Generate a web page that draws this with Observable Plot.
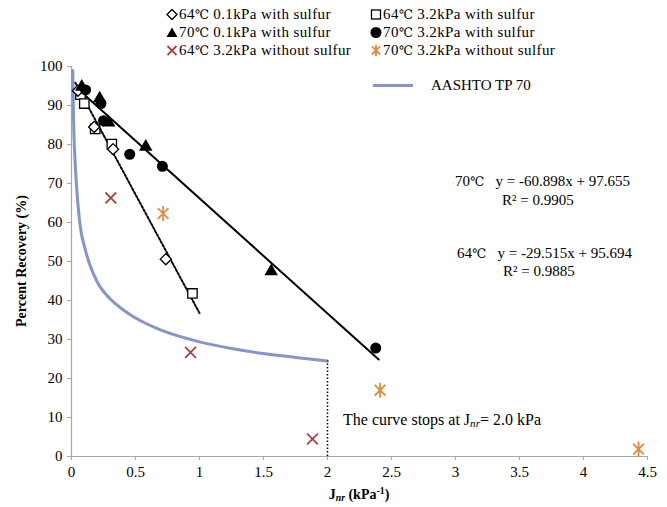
<!DOCTYPE html>
<html>
<head>
<meta charset="utf-8">
<script src="https://cdn.jsdelivr.net/npm/d3@7"></script>
<script src="https://cdn.jsdelivr.net/npm/@observablehq/plot@0.6"></script>
<style>
  html, body { margin: 0; padding: 0; background: #fff; }
  #wrap { position: relative; width: 667px; height: 507px; font-family: "Liberation Serif", "Times New Roman", serif; color: #000; }
  #wrap svg.plot { position: absolute; left: 0; top: 0; }
  #wrap svg.plot text { font-family: "Liberation Serif", "Times New Roman", serif; }
  g[aria-label="x-axis tick"], g[aria-label="y-axis tick"] { stroke: #a6a6a6; }
  .txt { position: absolute; white-space: nowrap; font-size: 15px; line-height: 15px; transform: translateY(-50%); }
  .leg { position: absolute; white-space: nowrap; font-size: 15px; letter-spacing: 0.4px; line-height: 15px; height: 15px; transform: translateY(-50%); display: flex; align-items: center; }
  .leg svg { margin-right: 1px; }
  .deg { font-family: "DejaVu Serif", "DejaVu Sans", serif; font-size: 0.85em; line-height: 0; letter-spacing: 0; }
  sub { font-size: 0.7em; vertical-align: -0.25em; line-height: 0; }
  sup { font-size: 0.7em; vertical-align: 0.5em; line-height: 0; }
</style>
</head>
<body>
<div id="wrap"></div>
<script>
// Non-recoverable creep compliance (kPa^-1) and percent recovery (%) per test series
const d64Low_x  = [0.05, 0.177, 0.325, 0.737];
const d64Low_y  = [93.8, 84.5, 78.8, 50.6];
const d64High_x = [0.07, 0.10, 0.185, 0.315, 0.945];
const d64High_y = [92.8, 90.5, 84.0, 80.1, 41.8];
const d70Low_x  = [0.08, 0.22, 0.29, 0.58, 1.56];
const d70Low_y  = [94.8, 91.8, 85.6, 79.4, 47.5];
const d70High_x = [0.11, 0.23, 0.25, 0.455, 0.71, 2.377];
const d70High_y = [94.0, 90.5, 86.1, 77.5, 74.4, 27.8];
const n64High_x = [0.307, 0.93, 1.883];
const n64High_y = [66.3, 26.7, 4.5];
const n70High_x = [0.716, 2.411, 4.43];
const n70High_y = [62.3, 17.0, 1.9];

// AASHTO TP 70 minimum recovery curve (ends at Jnr = 2.0)
const aashto_x = [0.01, 0.016, 0.026, 0.039, 0.055, 0.073, 0.1, 0.14, 0.2, 0.3, 0.4, 0.54, 0.7, 1.0, 1.25, 1.5, 1.75, 2.0];
const aashto_y = [99, 86.5, 77, 69.5, 63, 58, 54, 49.5, 44.8, 40.5, 37.7, 34.8, 32.4, 29.4, 27.7, 26.4, 25.4, 24.5];

// Linear fits: y = slope * x + intercept, over the fitted Jnr range
const fitTemps      = ["70", "64"];
const fitSlopes     = [-60.898, -29.515];
const fitIntercepts = [97.655, 95.694];
const fitR2         = ["0.9905", "0.9885"];
const fitRanges     = [[0.03, 1.0], [0.07, 2.4]];

const xTicks = [0, 0.5, 1, 1.5, 2, 2.5, 3, 3.5, 4, 4.5];
const yTicks = [0, 10, 20, 30, 40, 50, 60, 70, 80, 90, 100];

const pts = (xs, ys) => xs.map((x, i) => ({x, y: ys[i]}));
const fitLine = (k) => fitRanges[k].map(x => ({x, y: fitSlopes[k] * x + fitIntercepts[k]}));
const aashto = pts(aashto_x, aashto_y);
const curveEnd = aashto[aashto.length - 1];

// Excel-style star marker: an X with a vertical stroke
const star = {
  draw(ctx, size) {
    const r = Math.sqrt(size / Math.PI);
    const d = r * Math.SQRT1_2;
    ctx.moveTo(0, -r); ctx.lineTo(0, r);
    ctx.moveTo(-d, -d); ctx.lineTo(d, d);
    ctx.moveTo(-d, d); ctx.lineTo(d, -d);
  }
};

const RED = "#a8443f", ORANGE = "#e08a3c", BLUE = "#8496c9", AXIS = "#a6a6a6";

const chart = Plot.plot({
  width: 667,
  height: 507,
  marginTop: 66,
  marginBottom: 51,
  marginLeft: 71,
  marginRight: 20,
  style: {fontSize: "15px", color: "#000", background: "transparent"},
  x: {domain: [0, 4.5]},
  y: {domain: [0, 100]},
  marks: [
    Plot.axisX(xTicks, {tickSize: 4, tickPadding: 6, tickFormat: d => String(d), label: null, fontSize: 15}),
    Plot.axisY(yTicks, {tickSize: 4, tickPadding: 5, label: null, fontSize: 15}),
    Plot.ruleY([0], {stroke: AXIS, strokeWidth: 1.2}),
    Plot.ruleX([0], {y1: 0, y2: 100, stroke: AXIS, strokeWidth: 1.2}),
    Plot.line(aashto, {x: "x", y: "y", curve: "monotone-x", stroke: BLUE, strokeWidth: 3}),
    Plot.ruleX([curveEnd], {x: "x", y1: 0, y2: "y", stroke: "#000", strokeWidth: 1.5, strokeDasharray: "1.5 2"}),
    Plot.line(fitLine(0), {x: "x", y: "y", stroke: "#000", strokeWidth: 2, strokeDasharray: "2 2"}),
    Plot.line(fitLine(1), {x: "x", y: "y", stroke: "#000", strokeWidth: 2}),
    Plot.dot(pts(d64High_x, d64High_y), {x: "x", y: "y", symbol: "square2", r: 6, fill: "#fff", stroke: "#000", strokeWidth: 1.3}),
    Plot.dot(pts(d64Low_x, d64Low_y), {x: "x", y: "y", symbol: "diamond2", r: 5, fill: "#fff", stroke: "#000", strokeWidth: 1.3}),
    Plot.dot(pts(d70Low_x, d70Low_y), {x: "x", y: "y", symbol: "triangle", r: 5, fill: "#000"}),
    Plot.dot(pts(d70High_x, d70High_y), {x: "x", y: "y", symbol: "circle", r: 5.5, fill: "#000"}),
    Plot.dot(pts(n64High_x, n64High_y), {x: "x", y: "y", symbol: "times", r: 5, fill: "none", stroke: RED, strokeWidth: 1.8}),
    Plot.dot(pts(n70High_x, n70High_y), {x: "x", y: "y", symbol: star, r: 7.5, fill: "none", stroke: ORANGE, strokeWidth: 1.8})
  ]
});
chart.classList.add("plot");

const wrap = document.getElementById("wrap");
wrap.appendChild(chart);

// Legend markers as small inline SVGs
const sym = {
  diamond: `<svg width="12" height="12" viewBox="-6 -6 12 12"><path d="M0,-5L5,0L0,5L-5,0Z" fill="#fff" stroke="#000" stroke-width="1.3"/></svg>`,
  square: `<svg width="12" height="12" viewBox="-6 -6 12 12"><rect x="-4.5" y="-4.5" width="9" height="9" fill="#fff" stroke="#000" stroke-width="1.3"/></svg>`,
  triangle: `<svg width="12" height="12" viewBox="-6 -6 12 12"><path d="M0,-5L5.5,4.5L-5.5,4.5Z" fill="#000"/></svg>`,
  circle: `<svg width="12" height="12" viewBox="-6 -6 12 12"><circle r="5.5" fill="#000"/></svg>`,
  times: `<svg width="12" height="12" viewBox="-6 -6 12 12"><path d="M-4.5,-4.5L4.5,4.5M-4.5,4.5L4.5,-4.5" stroke="${RED}" stroke-width="1.8"/></svg>`,
  star: `<svg width="12" height="12" viewBox="-6 -6 12 12"><path d="M0,-5.5V5.5M-4,-4L4,4M-4,4L4,-4" stroke="${ORANGE}" stroke-width="1.8"/></svg>`
};

const DEG = `<span class="deg">℃</span>`;
const legendItems = [
  {s: "diamond",  t: "64", label: " 0.1kPa with sulfur",    left: 166, top: 14},
  {s: "square",   t: "64", label: " 3.2kPa with sulfur",    left: 370, top: 14},
  {s: "triangle", t: "70", label: " 0.1kPa with sulfur",    left: 166, top: 32},
  {s: "circle",   t: "70", label: " 3.2kPa with sulfur",    left: 370, top: 32},
  {s: "times",    t: "64", label: " 3.2kPa without sulfur", left: 166, top: 50},
  {s: "star",     t: "70", label: " 3.2kPa without sulfur", left: 370, top: 50}
];

function addHTML(cls, html, left, top, extra = "") {
  const el = document.createElement("div");
  el.className = cls;
  el.style.left = left + "px";
  el.style.top = top + "px";
  if (extra) el.style.cssText += extra;
  el.innerHTML = html;
  wrap.appendChild(el);
  return el;
}

legendItems.forEach(d => addHTML("leg", sym[d.s] + `<span>${d.t}${DEG}${d.label}</span>`, d.left, d.top));

// AASHTO curve legend entry
addHTML("leg", `<svg width="40" height="4"><line x1="0" x2="40" y1="2" y2="2" stroke="${BLUE}" stroke-width="3"/></svg><span style="margin-left:17px;letter-spacing:0">AASHTO TP 70</span>`, 373, 85);

// Fit equations
const fmtEq = k => `y = ${fitSlopes[k]}x + ${fitIntercepts[k]}`;
addHTML("txt", `${fitTemps[0]}${DEG}&nbsp;&nbsp;&nbsp;${fmtEq(0)}`, 455, 181);
addHTML("txt", `R² = ${fitR2[0]}`, 502, 200);
addHTML("txt", `${fitTemps[1]}${DEG}&nbsp;&nbsp;&nbsp;${fmtEq(1)}`, 457, 253);
addHTML("txt", `R² = ${fitR2[1]}`, 503, 271);

// Note on the AASHTO curve
addHTML("txt", `The curve stops at J<sub><i>nr</i></sub>= ${curveEnd.x.toFixed(1)} kPa`, 343, 419, "font-size:16px;");

// Axis titles
addHTML("txt", `J<sub><i>nr</i></sub> (kPa<sup>-1</sup>)`, 359, 494, "font-weight:bold;font-size:14px;transform:translate(-50%,-50%);");
addHTML("txt", `Percent Recovery (%)`, 21, 261, "font-weight:bold;font-size:14px;transform:translate(-50%,-50%) rotate(-90deg);");
</script>
</body>
</html>
